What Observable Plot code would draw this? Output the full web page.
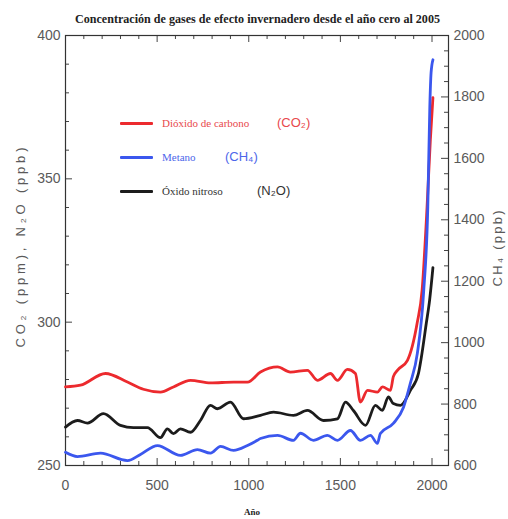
<!DOCTYPE html>
<html><head><meta charset="utf-8">
<script src="https://cdn.jsdelivr.net/npm/d3@7"></script>
<script src="https://cdn.jsdelivr.net/npm/@observablehq/plot@0.6"></script>
<style>
body{margin:0;background:#fff;}
#wrap{position:relative;width:508px;height:519px;overflow:hidden;background:#fff;}
.leg{position:absolute;white-space:nowrap;line-height:1;}
.sw{position:absolute;height:3px;width:33px;border-radius:1px;}
</style></head><body><div id="wrap"></div>
<script>
// ---- texts ----
const titleText = "Concentración de gases de efecto invernadero desde el año cero al 2005";
const xLabel = "Año";
const yLeftLabel = "CO₂ (ppm), N₂O (ppb)";
const yRightLabel = "CH₄ (ppb)";
const legendNames = ["Dióxido de carbono", "Metano", "Óxido nitroso"];
const legendFormulas = ["(CO₂)", "(CH₄)", "(N₂O)"];
const legendColors = ["#ec2a2e", "#3b57ee", "#1c1c1c"];
const legendTextColors = ["#e8484c", "#4d66ea", "#333333"];

// ---- ticks ----
const xTicks = [0, 500, 1000, 1500, 2000];
const xMinor = [100,200,300,400,600,700,800,900,1100,1200,1300,1400,1600,1700,1800,1900];
const yTicks = [250, 300, 350, 400];
const yMinor = [260,270,280,290,310,320,330,340,360,370,380,390];
const ch4Ticks = [600, 800, 1000, 1200, 1400, 1600, 1800, 2000];
const ch4Minor = [650,700,750,850,900,950,1050,1100,1150,1250,1300,1350,1450,1500,1550,1650,1700,1750,1850,1900,1950];

// ---- series ----
const co2Years = [0,82,218,338,425,518,589,682,791,917,993,1064,1157,1227,1320,1375,1446,1484,1538,1582,1609,1648,1702,1730,1773,1789,1811,1866,1919,1946,1973,1991,2005];
const co2Vals  = [277.4,278,282.1,279.1,276.6,275.6,277.4,279.7,278.8,279.1,279.1,282.6,284.4,282.6,283.2,279.7,282.1,279.7,283.5,282.1,272.1,276.2,275.6,277.4,276.2,281,283.2,286.7,299.7,311.2,340.2,363.6,378.3];

const ch4Years = [0,65,191,338,409,502,627,720,791,846,917,993,1047,1064,1157,1244,1282,1353,1429,1484,1555,1609,1664,1702,1718,1789,1844,1882,1920,1955,1977,1988,1995,2005];
const ch4Vals  = [643,629,640,616,636,665,633,652,640,662,649,665,682,688,698,682,705,682,698,682,714,682,698,672,704,737,789,868,965,1171,1442,1768,1879,1921];

const n2oYears = [0,65,120,207,300,371,447,518,556,589,627,682,736,791,829,900,971,1064,1135,1244,1320,1408,1484,1528,1571,1637,1691,1729,1762,1789,1828,1882,1926,1940,1969,1987,2005];
const n2oVals  = [263.4,265.7,264.8,268.1,264,263.2,263.2,259.7,262.8,261.1,262.8,261.6,265.7,271,269.8,272.1,266.3,267.5,268.6,267.5,269.2,265.7,266.3,272.1,269.2,264,271,269.2,273.9,271.6,271,276.2,282.1,287,299.7,307.7,319];

const toLeft = v => 250 + (v - 600) * 150 / 1400;
const fromLeft = v => 600 + (v - 250) * 1400 / 150;

const co2 = co2Years.map((y, i) => ({year: y, value: co2Vals[i]}));
const ch4 = ch4Years.map((y, i) => ({year: y, value: ch4Vals[i]}));
const n2o = n2oYears.map((y, i) => ({year: y, value: n2oVals[i]}));

const wrap = document.getElementById("wrap");

// title
const tsvg = d3.create("svg").attr("width", 508).attr("height", 30).style("display", "block");
tsvg.append("text").attr("x", 75).attr("y", 23)
  .attr("textLength", 365).attr("lengthAdjust", "spacingAndGlyphs")
  .attr("font-family", "'Liberation Serif', 'Times New Roman', serif")
  .attr("font-weight", "bold").attr("font-size", 12.5).attr("fill", "#222")
  .text(titleText);
wrap.appendChild(tsvg.node());

const FW = 383, FH = 430;
const chart = Plot.plot({
  width: 508, height: 489,
  marginTop: 5, marginBottom: 54, marginLeft: 65, marginRight: 60,
  x: {domain: [0, 2090]},
  y: {domain: [250, 400]},
  style: {fontFamily: "'Liberation Sans', Arial, sans-serif", fontSize: "14px", color: "#5a5a5a", background: "white", overflow: "visible"},
  marks: [
    // left ticks
    Plot.tickY(yTicks, {y: d => d, insetRight: FW - 7, stroke: "#444"}),
    Plot.tickY(yMinor, {y: d => d, insetRight: FW - 4, stroke: "#444"}),
    // right ticks
    Plot.tickY(ch4Ticks.map(toLeft), {y: d => d, insetLeft: FW - 7, stroke: "#444"}),
    Plot.tickY(ch4Minor.map(toLeft), {y: d => d, insetLeft: FW - 4, stroke: "#444"}),
    // bottom ticks
    Plot.tickX(xTicks, {x: d => d, insetTop: FH - 7, stroke: "#444"}),
    Plot.tickX(xMinor, {x: d => d, insetTop: FH - 4, stroke: "#444"}),
    // top ticks
    Plot.tickX(xTicks, {x: d => d, insetBottom: FH - 7, stroke: "#444"}),
    Plot.tickX(xMinor, {x: d => d, insetBottom: FH - 4, stroke: "#444"}),
    Plot.frame({stroke: "#333", strokeWidth: 1.2}),
    Plot.axisY(yTicks, {anchor: "left", tickSize: 0, tickPadding: 5, label: null}),
    Plot.axisY(ch4Ticks.map(toLeft), {anchor: "right", tickSize: 0, tickPadding: 5, label: null, tickFormat: d => String(Math.round(fromLeft(d)))}),
    Plot.axisX(xTicks, {anchor: "bottom", tickSize: 0, tickPadding: 15, label: null, tickFormat: d => String(d)}),
    Plot.line(n2o, {x: "year", y: "value", stroke: legendColors[2], strokeWidth: 2.8, curve: "monotone-x"}),
    Plot.line(co2, {x: "year", y: "value", stroke: legendColors[0], strokeWidth: 2.8, curve: "monotone-x"}),
    Plot.line(ch4, {x: "year", y: d => toLeft(d.value), stroke: legendColors[1], strokeWidth: 2.8, curve: "monotone-x"}),
    Plot.text([yLeftLabel], {text: d => d, frameAnchor: "left", dx: -45, dy: -3, rotate: -90, fontSize: 13, fill: "#5a5a5a"}),
    Plot.text([yRightLabel], {text: d => d, frameAnchor: "right", dx: 49, dy: -2, rotate: -90, fontSize: 13, fill: "#5a5a5a"}),
    Plot.text([xLabel], {text: d => d, frameAnchor: "bottom", dy: 49, dx: -5, fontSize: 9, fontWeight: "bold", fontFamily: "'Liberation Serif', serif", fill: "#222"})
  ]
});
chart.style.display = "block";
wrap.appendChild(chart);

d3.select(chart).selectAll("text").each(function() {
  const t = this.textContent;
  if (t === yLeftLabel) d3.select(this).attr("text-anchor", "start").attr("x", -100).attr("textLength", 200).attr("lengthAdjust", "spacing");
  if (t === yRightLabel) d3.select(this).attr("text-anchor", "start").attr("x", -38).attr("textLength", 76).attr("lengthAdjust", "spacing");
});

// legend (HTML overlay)
const rowsY = [123, 157, 191];
const formulaX = [277, 225, 257];
legendNames.forEach((name, i) => {
  const sw = document.createElement("div");
  sw.className = "sw";
  sw.style.left = "120px"; sw.style.top = (rowsY[i] - 1.5) + "px";
  sw.style.background = legendColors[i];
  wrap.appendChild(sw);
  const t = document.createElement("div");
  t.className = "leg";
  t.style.left = "162px"; t.style.top = (rowsY[i] - 6) + "px";
  t.style.font = "11px 'Liberation Serif', 'Times New Roman', serif";
  t.style.color = legendTextColors[i];
  t.textContent = name;
  wrap.appendChild(t);
  const f = document.createElement("div");
  f.className = "leg";
  f.style.left = formulaX[i] + "px"; f.style.top = (rowsY[i] - 8) + "px";
  f.style.font = "13px 'Liberation Sans', Arial, sans-serif";
  f.style.color = legendTextColors[i];
  f.textContent = legendFormulas[i];
  wrap.appendChild(f);
});
</script>
</body></html>
